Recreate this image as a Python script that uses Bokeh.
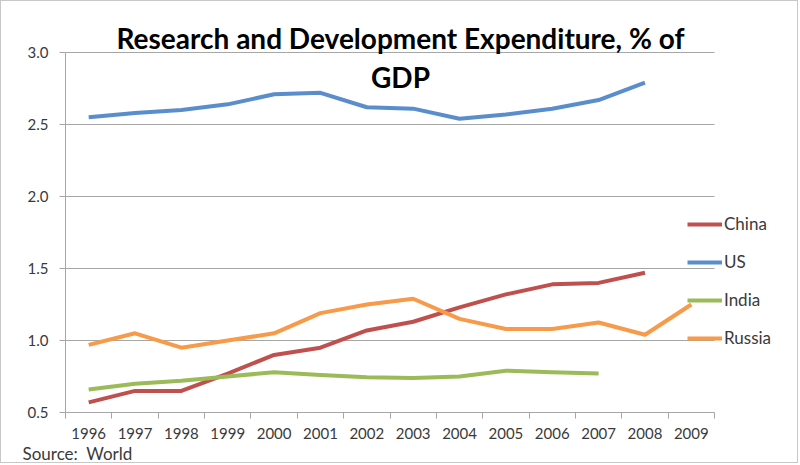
import numpy as np
from bokeh.plotting import figure
from bokeh.models import (Range1d, FixedTicker, Legend, LegendItem, Label)
from bokeh.embed import file_html
from bokeh.resources import INLINE

years = ["1996", "1997", "1998", "1999", "2000", "2001", "2002",
         "2003", "2004", "2005", "2006", "2007", "2008", "2009"]
y_ticks = [0.5, 1.0, 1.5, 2.0, 2.5, 3.0]

china = [0.57, 0.65, 0.65, 0.77, 0.90, 0.95, 1.07, 1.13, 1.23, 1.32, 1.39, 1.40, 1.47]
us = [2.55, 2.58, 2.60, 2.64, 2.71, 2.72, 2.62, 2.61, 2.54, 2.57, 2.61, 2.67, 2.79]
india = [0.66, 0.70, 0.72, 0.75, 0.78, 0.76, 0.745, 0.74, 0.75, 0.79, 0.78, 0.77]
russia = [0.97, 1.05, 0.95, 1.00, 1.05, 1.19, 1.25, 1.29, 1.15, 1.08, 1.08, 1.125, 1.04, 1.25]

series = [("China", china, "#c0504d"), ("US", us, "#5a8dcb"),
          ("India", india, "#9bbb59"), ("Russia", russia, "#f79a4a")]

FONT = "Lato"
GRID = "#a6a6a6"
TXT = "#3a3a3a"

# canvas geometry (figure pixels): plot area box
W, H = 798, 463
PL, PR, PT, PB = 64, 713, 51, 411

n = len(years)
centers = list(np.arange(n) + 0.5)
bounds = list(range(n + 1))
y0, y1 = y_ticks[0], y_ticks[-1]

xs = (PR - PL) / n
ys = (PB - PT) / (y1 - y0)
x_range = Range1d(0 - PL / xs, n + (W - PR) / xs)
y_range = Range1d(y0 - (H - PB) / ys, y1 + PT / ys)

p = figure(width=W, height=H, output_backend="svg", toolbar_location=None,
           x_range=x_range, y_range=y_range, min_border=0)
p.min_border_left = p.min_border_right = p.min_border_top = p.min_border_bottom = 0
p.styles = {"border": "1px solid #c8c8c8"}
p.outline_line_color = None
p.background_fill_color = "white"
p.border_fill_color = "white"
p.xgrid.visible = False
p.ygrid.visible = False

# x axis
xa = p.xaxis[0]
xa.fixed_location = y0
xa.bounds = (0, n)
xa.ticker = FixedTicker(ticks=centers, minor_ticks=bounds)
xa.major_label_overrides = {c: y for c, y in zip(centers, years)}
xa.major_tick_out = 0
xa.major_tick_in = 0
xa.minor_tick_out = 6
xa.minor_tick_in = 0
xa.minor_tick_line_color = GRID
xa.axis_line_color = GRID
xa.major_label_standoff = 9
xa.major_label_text_font = FONT
xa.major_label_text_font_size = "15px"
xa.major_label_text_color = TXT

ya = p.yaxis[0]
ya.fixed_location = 0
ya.bounds = (y0, y1)
ya.ticker = FixedTicker(ticks=y_ticks)
ya.major_label_overrides = {t: f"{t:.1f}" for t in y_ticks}
ya.major_tick_out = 6
ya.major_tick_in = 0
ya.minor_tick_out = 0
ya.minor_tick_in = 0
ya.major_tick_line_color = GRID
ya.axis_line_color = GRID
ya.major_label_standoff = 11
ya.major_label_text_font = FONT
ya.major_label_text_font_size = "15px"
ya.major_label_text_color = TXT

# horizontal gridlines across the category span
gy = y_ticks[1:]
p.segment(x0=[0] * len(gy), x1=[n] * len(gy), y0=gy, y1=gy,
          line_color=GRID, line_width=1)

items = []
for name, vals, col in series:
    r = p.line(centers[:len(vals)], vals, line_color=col, line_width=4, line_join="round")
    items.append(LegendItem(label=name, renderers=[r]))

legend = Legend(items=items, location=(686, 116), orientation="vertical",
                glyph_width=35, glyph_height=20, label_height=20, spacing=17,
                label_standoff=2, padding=0, margin=0,
                border_line_color=None, background_fill_alpha=0,
                label_text_font=FONT, label_text_font_size="17px",
                label_text_color=TXT)
p.add_layout(legend, "center")

p.add_layout(Label(x=399, y=427, x_units="screen", y_units="screen",
                   text="Research and Development Expenditure, % of",
                   text_align="center", text_baseline="middle",
                   text_font=FONT, text_font_style="bold", text_font_size="28px",
                   text_color="black"))
p.add_layout(Label(x=399, y=388, x_units="screen", y_units="screen",
                   text="GDP", text_align="center", text_baseline="middle",
                   text_font=FONT, text_font_style="bold", text_font_size="28px",
                   text_color="black"))
p.add_layout(Label(x=21, y=1, x_units="screen", y_units="screen",
                   text="Source:\u00a0\u00a0World", text_align="left", text_baseline="bottom",
                   text_font=FONT, text_font_size="17px", text_color=TXT))

open("out.html", "w").write(file_html(p, INLINE))
